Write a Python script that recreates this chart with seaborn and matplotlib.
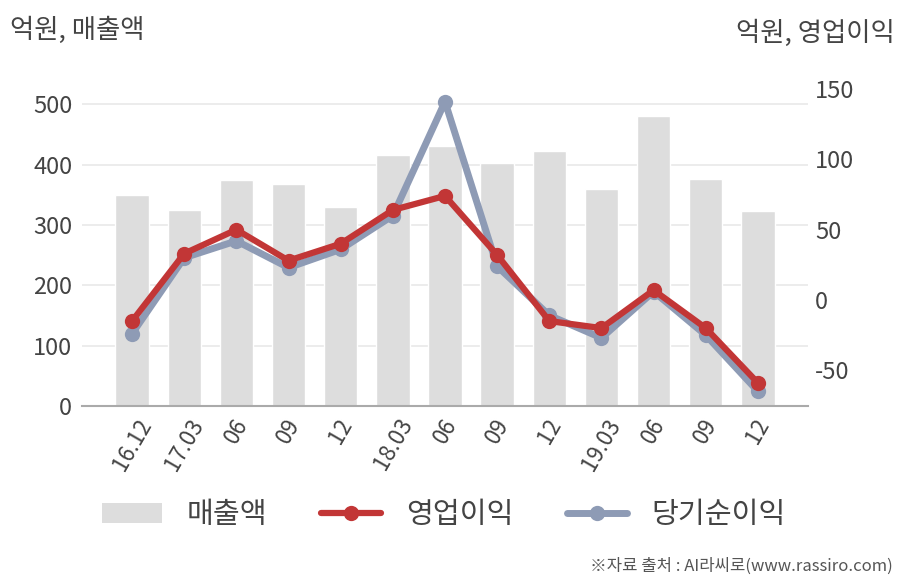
import numpy as np
import pandas as pd
import matplotlib
matplotlib.use("Agg")
import matplotlib.pyplot as plt
import seaborn as sns
from matplotlib.patches import Patch
from matplotlib.lines import Line2D

categories = ["16.12", "17.03", "06", "09", "12", "18.03", "06", "09", "12", "19.03", "06", "09", "12"]
sales = [350, 325, 374, 368, 330, 416, 431, 402, 422, 359, 480, 376, 323]
op_income = [-15, 33, 50, 28, 40, 64, 74, 32, -15, -20, 7, -20, -59]
net_income = [-24, 30, 42, 23, 36, 60, 141, 24, -11, -27, 6, -25, -65]

sns.set_theme(style="white")
plt.rcParams['font.family'] = ['Noto Sans CJK KR', 'DejaVu Sans']
plt.rcParams['axes.unicode_minus'] = False

BAR = '#dddddd'
RED = '#c23636'
BLUE = '#8e9bb5'
TXT = '#444444'

fig = plt.figure(figsize=(9.08, 5.8), dpi=100)
ax1 = fig.add_axes([82/908, 1-406/580, (808-82)/908, (406-74)/580])

idx = np.arange(len(categories))
df = pd.DataFrame({"pos": idx, "sales": sales, "op": op_income, "net": net_income})

sns.barplot(data=df, x="pos", y="sales", ax=ax1, color=BAR, width=0.64,
            saturation=1, native_scale=True)
ax1.set_xlim(-0.96, 12.96)
ax1.set_ylim(0, 550)
ax1.set_yticks([0, 100, 200, 300, 400, 500])
ax1.yaxis.grid(True, color='#e9e9e9', linewidth=1.2)
ax1.set_axisbelow(True)
ax1.set_xticks(idx)
ax1.set_xticklabels(categories, rotation=60, fontsize=16, color=TXT)
ax1.tick_params(axis='x', length=0, pad=6)
ax1.tick_params(axis='y', length=0, pad=7, labelsize=17, labelcolor=TXT)
ax1.set_xlabel("")
ax1.set_ylabel("")
for s in ['top', 'right', 'left']:
    ax1.spines[s].set_visible(False)
ax1.spines['bottom'].set_color('#aaaaaa')
ax1.spines['bottom'].set_linewidth(1.5)

ax2 = ax1.twinx()
sns.lineplot(data=df, x="pos", y="net", ax=ax2, color=BLUE, linewidth=5,
             marker='o', markersize=11, markeredgewidth=0)
sns.lineplot(data=df, x="pos", y="op", ax=ax2, color=RED, linewidth=4.5,
             marker='o', markersize=11, markeredgewidth=0)
ax2.set_ylim(-75.4, 160.7)
ax2.set_yticks([-50, 0, 50, 100, 150])
ax2.tick_params(axis='y', length=0, pad=5, labelsize=17, labelcolor=TXT)
ax2.set_xlabel("")
ax2.set_ylabel("")
for s in ['top', 'right', 'left', 'bottom']:
    ax2.spines[s].set_visible(False)
ax2.grid(False)
ax2.set_xlim(-0.96, 12.96)

fig.text(10/908, 1-30/580, "억원, 매출액", fontsize=19, color=TXT, ha='left', va='center')
fig.text(895/908, 1-33/580, "억원, 영업이익", fontsize=19, color=TXT, ha='right', va='center')

handles = [
    Patch(facecolor=BAR, edgecolor='none'),
    Line2D([], [], color=RED, linewidth=4.5, marker='o', markersize=11, markeredgewidth=0),
    Line2D([], [], color=BLUE, linewidth=5, marker='o', markersize=11, markeredgewidth=0),
]
labels = ["매출액", "영업이익", "당기순이익"]
leg = fig.legend(handles, labels, loc='center', bbox_to_anchor=(444/908, 1-515/580), ncol=3,
                 frameon=False, fontsize=21, handlelength=2.05, handletextpad=0.85,
                 columnspacing=1.85)
for t in leg.get_texts():
    t.set_color(TXT)

fig.text(893/908, 1-566/580, "※자료 출처 : AI라씨로(www.rassiro.com)", fontsize=12,
         color='#555555', ha='right', va='center')

fig.savefig("out.png", dpi=100)
